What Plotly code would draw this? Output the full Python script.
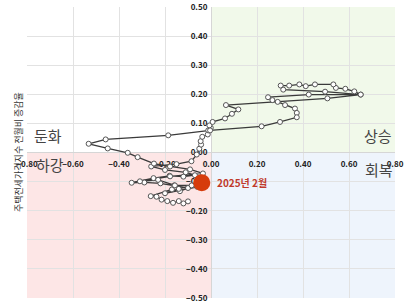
import plotly.graph_objects as go

# Path of monthly observations (y: 주택전세가격지수 전월비 증감율)
x_vals = [-0.10, -0.12, -0.14, -0.165, -0.19, -0.215, -0.237, -0.262, -0.17, -0.135,
          -0.10, -0.16, -0.22, -0.29, -0.345, -0.25, -0.18, -0.12, -0.07, -0.11,
          -0.20, -0.26, -0.15, -0.085, -0.062, -0.051, -0.043, -0.045, -0.038, -0.014,
          -0.012, -0.001, -0.007, 0.007, 0.061, 0.091, 0.119, 0.065, 0.506, 0.651,
          0.623, 0.584, 0.543, 0.532, 0.452, 0.412, 0.384, 0.340, 0.303, 0.314,
          0.496, 0.651, 0.425, 0.248, 0.267, 0.290, 0.322, 0.365, 0.373, 0.373,
          0.300, 0.220, -0.004, -0.186, -0.458, -0.532, -0.449, -0.362, -0.319, -0.248,
          -0.178, -0.091, -0.035, -0.178, -0.309, -0.230, -0.157, -0.084, -0.140, -0.200,
          -0.060, -0.040]
y_vals = [-0.168, -0.175, -0.167, -0.173, -0.167, -0.162, -0.152, -0.150, -0.127, -0.133,
          -0.122, -0.113, -0.106, -0.103, -0.104, -0.088, -0.080, -0.083, -0.078, -0.068,
          -0.060, -0.048, -0.040, -0.030, -0.007, 0.013, 0.027, 0.039, 0.054, 0.062,
          0.076, 0.085, 0.093, 0.105, 0.117, 0.133, 0.148, 0.163, 0.186, 0.199,
          0.210, 0.219, 0.222, 0.234, 0.234, 0.228, 0.234, 0.230, 0.230, 0.216,
          0.209, 0.199, 0.199, 0.190, 0.180, 0.174, 0.163, 0.151, 0.136, 0.121,
          0.105, 0.090, 0.076, 0.059, 0.045, 0.030, 0.014, -0.001, -0.016, -0.038,
          -0.048, -0.058, -0.072, -0.082, -0.099, -0.094, -0.113, -0.113, -0.125, -0.140,
          -0.118, -0.104]
last_label = "2025년 2월"
y_title = "주택전세가격지수 전월비 증감율"
quadrant_names = ["상승", "둔화", "하강", "회복"]
x_ticks = [-0.8, -0.6, -0.4, -0.2, 0.0, 0.2, 0.4, 0.6, 0.8]
y_ticks = [-0.5, -0.4, -0.3, -0.2, -0.1, 0.0, 0.1, 0.2, 0.3, 0.4, 0.5]

FONT = "Noto Sans CJK KR"

fig = go.Figure()

# quadrant backgrounds
quad_rects = [
    (0, 0.8, 0, 0.5, "#f1f9ea"),
    (-0.8, 0, 0, 0.5, "#ffffff"),
    (-0.8, 0, -0.5, 0, "#fde6e6"),
    (0, 0.8, -0.5, 0, "#eef4fc"),
]
for x0, x1, y0, y1, c in quad_rects:
    fig.add_shape(type="rect", xref="x", yref="y", x0=x0, x1=x1, y0=y0, y1=y1,
                  fillcolor=c, line=dict(width=0), layer="below")

fig.add_trace(go.Scatter(
    x=x_vals, y=y_vals, mode="lines+markers",
    line=dict(color="#3a3a3a", width=1.3),
    marker=dict(size=5, color="white", line=dict(color="#555555", width=1)),
    hoverinfo="skip", showlegend=False))

fig.add_trace(go.Scatter(
    x=[x_vals[-1]], y=[y_vals[-1]], mode="markers",
    marker=dict(size=17, color="#d63c0c"),
    showlegend=False))

fig.add_annotation(x=x_vals[-1], y=y_vals[-1], xref="x", yref="y", text=last_label,
                   showarrow=False, xanchor="left", xshift=13,
                   font=dict(family=FONT, size=10, color="#c0392b", weight="bold"))

# quadrant labels
q_pos = [(0.728, 0.057), (-0.707, 0.058), (-0.702, -0.041), (0.73, -0.058)]
for name, (qx, qy) in zip(quadrant_names, q_pos):
    fig.add_annotation(x=qx, y=qy, xref="x", yref="y", text=name, showarrow=False,
                       font=dict(family=FONT, size=15, color="#444444"))

fig.add_annotation(x=-0.046, y=0.5, xref="paper", yref="paper", text=y_title,
                   textangle=-90, showarrow=False,
                   font=dict(family=FONT, size=9, color="#333333"))

axis_font = dict(family=FONT, size=8, color="#222222", weight="bold")
fig.update_xaxes(range=[-0.8, 0.8], tickvals=x_ticks, tickformat=".2f",
                 gridcolor="#e2e2e2", gridwidth=1, zeroline=True,
                 zerolinecolor="#d6d6d6", zerolinewidth=1,
                 anchor="free", position=0.5, showline=False,
                 ticks="outside", ticklen=4, tickcolor="rgba(0,0,0,0)",
                 tickfont=axis_font, automargin=False, layer="below traces")
fig.update_yaxes(range=[-0.5, 0.5], tickvals=y_ticks, tickformat=".2f",
                 gridcolor="#e2e2e2", gridwidth=1, zeroline=True,
                 zerolinecolor="#d6d6d6", zerolinewidth=1,
                 anchor="free", position=0.5, showline=False,
                 ticks="outside", ticklen=2, tickcolor="rgba(0,0,0,0)",
                 tickfont=axis_font, automargin=False, layer="below traces")

fig.update_layout(width=416, height=303,
                  margin=dict(l=27, r=21, t=7, b=5),
                  paper_bgcolor="white", plot_bgcolor="white",
                  font=dict(family=FONT), showlegend=False)

fig.write_html("out.html", config={"displayModeBar": False},
               post_script="document.body.style.margin='0';document.body.style.overflow='hidden';")
